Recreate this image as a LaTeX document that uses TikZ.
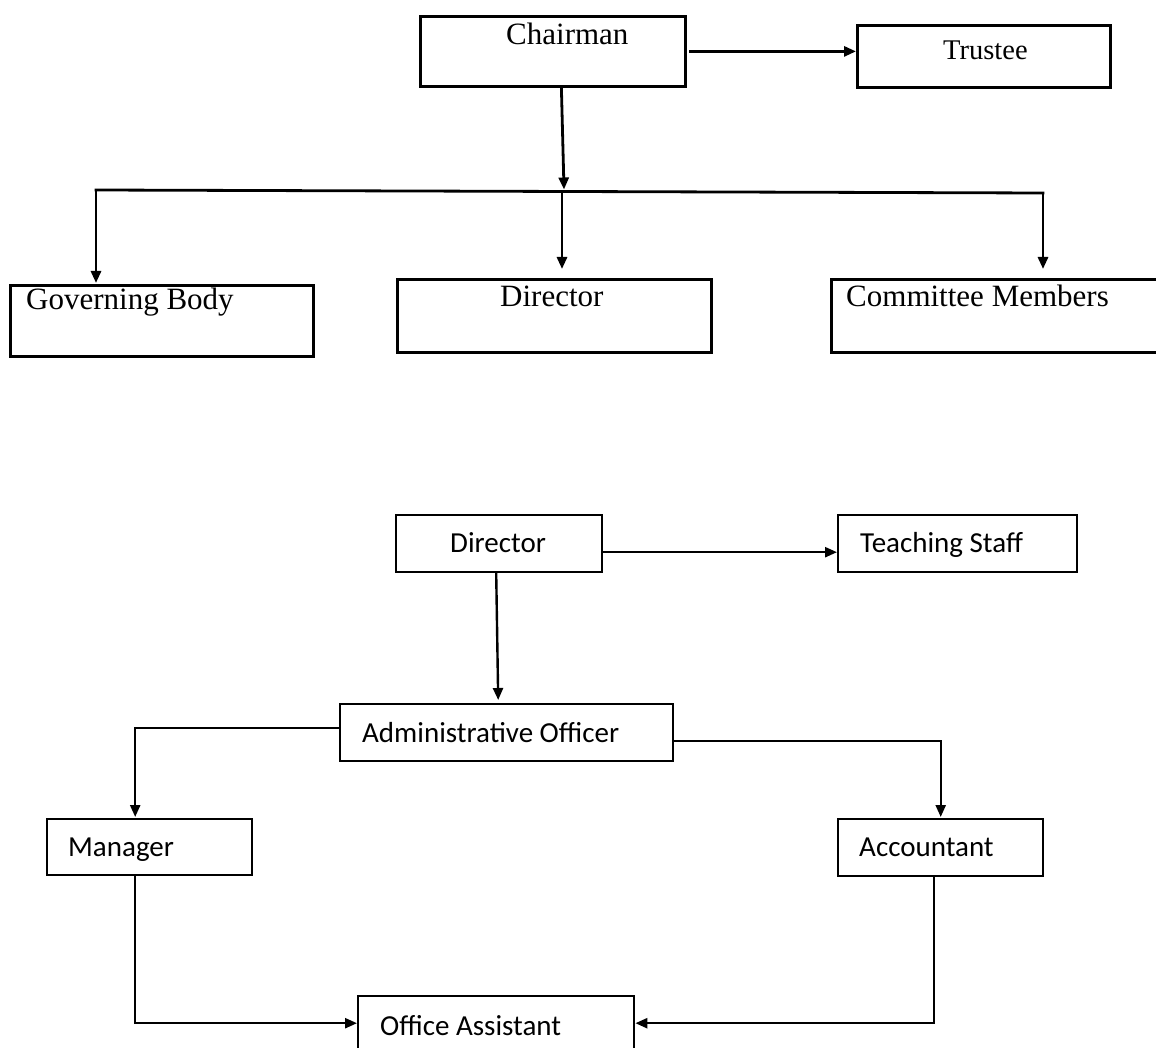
\documentclass[tikz,border=0pt]{standalone}
\usepackage{fontspec}
\setmainfont{Liberation Serif}
\newfontfamily\calfont{Carlito}
\usetikzlibrary{arrows.meta,calc}
\begin{document}
\begin{tikzpicture}[x=1pt,y=-1pt,
  topbox/.style={draw, line width=2.8pt, inner sep=0pt, anchor=north west},
  botbox/.style={draw, line width=2.4pt, inner sep=0pt, anchor=north west},
  toptxt/.style={inner sep=0pt, anchor=base west, font=\fontsize{31}{36}\selectfont},
  bottxt/.style={inner sep=0pt, anchor=base west, font=\calfont\fontsize{29}{34}\selectfont},
  toparr/.style={line width=2.8pt, line cap=rect, -{Triangle[length=12pt,width=10pt]}},
  botarr/.style={line width=2.4pt, line cap=rect, -{Triangle[length=12pt,width=10pt]}},
  topline/.style={line width=2.8pt, line cap=rect},
]
\useasboundingbox (0,0) rectangle (1156,1048);
\clip (0,0) rectangle (1156,1048);
\fill[white] (0,0) rectangle (1156,1048);

% ---------- upper chart ----------
\node[topbox, minimum width=265pt, minimum height=70pt] (chair) at (419,15) {};
\node[toptxt] (chairT) at (506,45) {Chairman};
\node[topbox, minimum width=253pt, minimum height=62pt] (trus) at (856,24) {};
\node[toptxt, font=\fontsize{28.5}{34}\selectfont] (trusT) at (943,60) {Trustee};
\node[topbox, minimum width=303pt, minimum height=71pt] (gov) at (9,284) {};
\node[toptxt] (govT) at (26,310) {Governing Body};
\node[topbox, minimum width=314pt, minimum height=73pt] (dirA) at (396,278) {};
\node[toptxt] (dirAT) at (500,307) {Director};
\node[topbox, minimum width=360pt, minimum height=73pt] (com) at (830,278) {};
\node[toptxt] (comT) at (846,307) {Committee Members};

\coordinate (busL) at (96,190);
\coordinate (busR) at (1043,193);
\coordinate (busM) at (562,191.5);

\draw[toparr] ([xshift=4pt]chair.east) -- (chair.east -| trus.west);
\draw[toparr] ($(chair.south)+(8.5,0)$) -- ($(busM)+(2,-2)$);
\draw[topline] (busL) -- (busR);
\draw[toparr] (busL) -- ($(busL |- gov.north)+(0,-1)$);
\draw[toparr] (busM) -- ($(busM |- dirA.north)+(0,-9)$);
\draw[toparr] (busR) -- ($(busR |- com.north)+(0,-9)$);

% ---------- lower chart ----------
\node[botbox, minimum width=206pt, minimum height=57pt] (dirB) at (395,514) {};
\node[bottxt] (dirBT) at (450,552) {Director};
\node[botbox, minimum width=239pt, minimum height=57pt] (teach) at (837,514) {};
\node[bottxt] (teachT) at (860,552) {Teaching Staff};
\node[botbox, minimum width=333pt, minimum height=57pt] (adm) at (339,703) {};
\node[bottxt] (admT) at (362,742) {Administrative Officer};
\node[botbox, minimum width=205pt, minimum height=56pt] (man) at (46,818) {};
\node[bottxt] (manT) at (68,856) {Manager};
\node[botbox, minimum width=205pt, minimum height=57pt] (acc) at (837,818) {};
\node[bottxt] (accT) at (859,856) {Accountant};
\node[botbox, minimum width=276pt, minimum height=57pt] (off) at (357,995) {};
\node[bottxt] (offT) at (380,1035) {Office Assistant};

\draw[botarr] ($(dirB.east)+(0,8.5)$) -- ($(teach.west)+(0,8.5)$);
\draw[botarr] ($(dirB.south)+(-3,0)$) -- ($(adm.north)+(-8.5,-3)$);
\draw[botarr] ($(adm.west)+(0,-4.5)$) -| ($(man.north)+(-14.5,-1)$);
\draw[botarr] ($(adm.east)+(0,8.5)$) -| ($(acc.north)+(0,-1)$);
\draw[botarr] ($(man.south)+(-14.5,0)$) |- ($(off.west)+(0,-1.5)$);
\draw[botarr] ($(acc.south)+(-6.5,0)$) |- ($(off.east)+(0,-1.5)$);
\end{tikzpicture}
\end{document}
